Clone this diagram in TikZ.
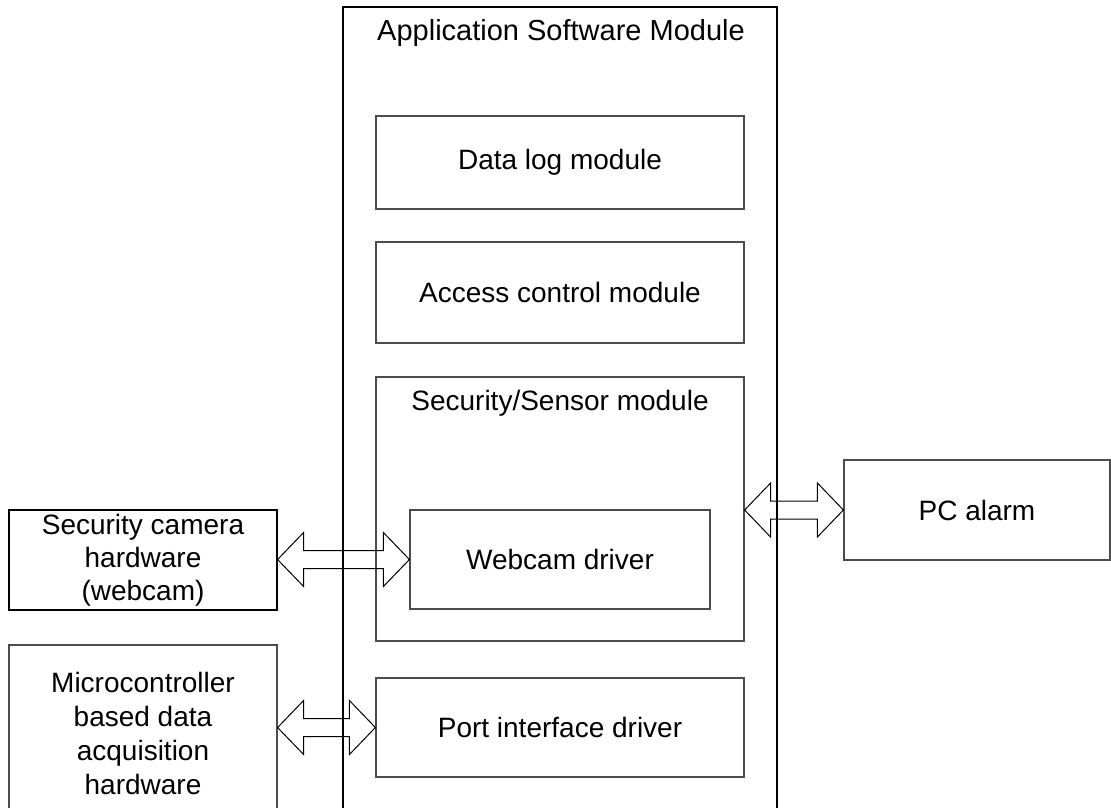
\documentclass[tikz,border=0pt]{standalone}
\usepackage{fontspec}
\setmainfont{Liberation Sans}
\usetikzlibrary{calc}
\newcommand\dblarr[2]{%
  \draw[darr] let \p1=(#1), \p2=(#2) in
    (\x1,\y2) -- (\x1+26pt,\y2+27pt) -- (\x1+26pt,\y2+9pt) -- (\x2-26pt,\y2+9pt)
    -- (\x2-26pt,\y2+27pt) -- (\x2,\y2) -- (\x2-26pt,\y2-27pt) -- (\x2-26pt,\y2-9pt)
    -- (\x1+26pt,\y2-9pt) -- (\x1+26pt,\y2-27pt) -- cycle;}
\begin{document}
\begin{tikzpicture}[x=1pt,y=-1pt,
  box/.style={draw=black!70, line width=1.2pt, rectangle, inner sep=0pt},
  outerbox/.style={draw=black, line width=1.2pt, rectangle, inner sep=0pt},
  txt/.style={font=\fontsize{28}{33}\selectfont, align=center, text=black},
  darr/.style={draw=black, line width=1pt, line join=miter}]
\useasboundingbox (0,0) rectangle (1111,808);
\clip (0,0) rectangle (1111,808);
% outer application module
\node[outerbox, minimum width=434pt, minimum height=844pt] (app) at (560,429) {};
\node[txt, font=\fontsize{29}{33}\selectfont] (apptitle) at (561,33) {Application Software Module};
% inner modules
\node[box, txt, minimum width=368pt, minimum height=93pt] (datalog) at (560,162.5) {Data log module};
\node[box, txt, minimum width=368pt, minimum height=101pt] (access) at (560,292.5) {Access control module};
\node[box, minimum width=368pt, minimum height=264pt] (secsens) at (560,509) {};
\node[txt] (sectitle) at (560,403) {Security/Sensor module};
\node[box, txt, minimum width=300pt, minimum height=99pt] (webcam) at (560,559.5) {Webcam driver};
\node[box, txt, minimum width=368pt, minimum height=99pt] (port) at (560,727.5) {Port interface driver};
% external
\node[box, txt, minimum width=266pt, minimum height=100pt] (alarm) at (977,510) {PC alarm};
\node[outerbox, txt, minimum width=268pt, minimum height=100pt] (cam) at (143,560) {Security camera\\hardware\\(webcam)};
\node[box, txt, font=\fontsize{28}{34}\selectfont, minimum width=268pt, minimum height=177pt] (micro) at (143,733.5) {Microcontroller\\based data\\acquisition\\hardware};
% double arrows
\dblarr{cam.east}{webcam.west}
\dblarr{micro.east}{port.west}
\dblarr{secsens.east}{alarm.west}
\end{tikzpicture}
\end{document}
